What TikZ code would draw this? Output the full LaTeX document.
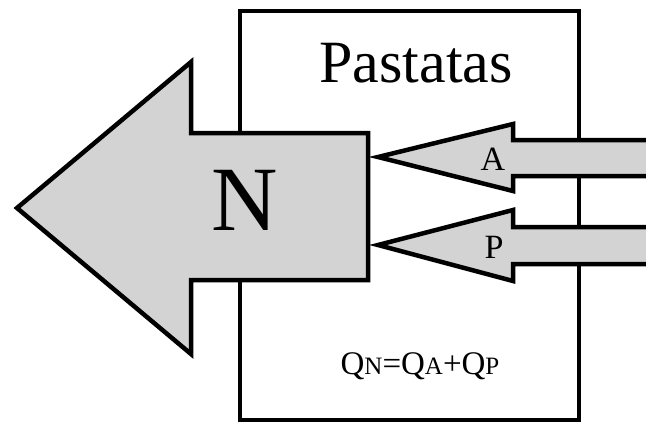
\documentclass[tikz,border=0pt]{standalone}
\usepackage{fontspec}
\setmainfont{Liberation Serif}
\definecolor{flowgray}{RGB}{211,211,211}
\newcommand{\qsub}[1]{{\fontsize{25}{25}\selectfont #1}}

\begin{document}
\begin{tikzpicture}[x=1pt, y=-1pt, line width=4pt,
  flow/.style={draw, fill=flowgray, line width=4.5pt, line join=miter},
  every node/.style={inner sep=0pt, anchor=base}]

\clip (0,0) rectangle (646,424);

\draw (240,11) rectangle (579,420);

\draw[flow] (17,208) -- (191,62) -- (191,133) -- (368,133) -- (368,280) -- (191,280) -- (191,354) -- cycle;
\draw[flow] (378,157) -- (513,124) -- (513,140) -- (670,140) -- (670,176) -- (513,176) -- (513,191) -- cycle;
\draw[flow] (378,245) -- (513,210) -- (513,227) -- (670,227) -- (670,264) -- (513,264) -- (513,281) -- cycle;

\node (title) at (416,82) {\fontsize{60}{70}\selectfont Pastatas};
\node (nlabel) at (245,230) {\fontsize{92}{100}\selectfont N};
\node (alabel) at (493,170) {\fontsize{34}{40}\selectfont A};
\node (plabel) at (494,258) {\fontsize{34}{40}\selectfont P};
\node (formula) at (420,374) {\fontsize{33}{40}\selectfont Q\qsub{N}=Q\qsub{A}+Q\qsub{P}};

\end{tikzpicture}
\end{document}
